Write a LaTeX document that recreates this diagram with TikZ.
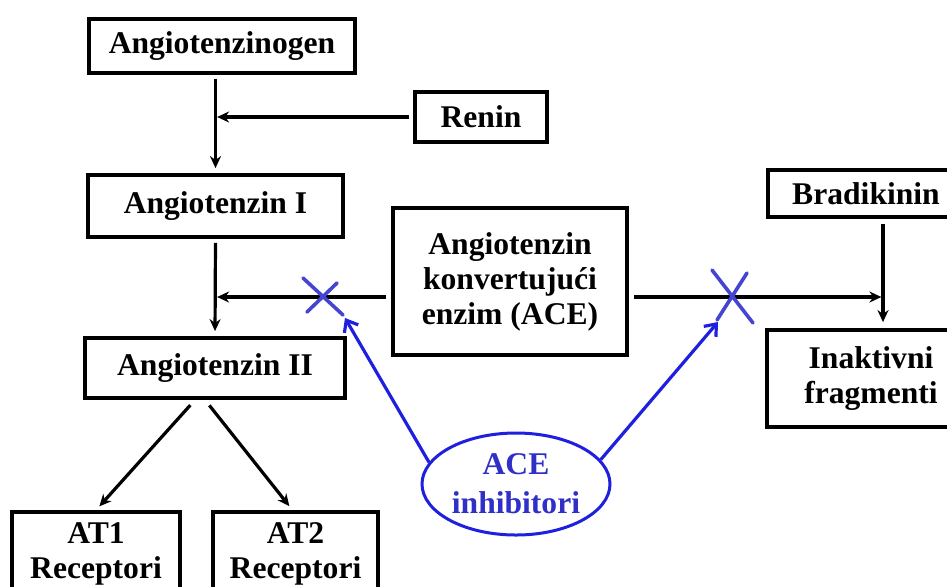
\documentclass[tikz,border=0pt]{standalone}
\usepackage{fontspec}
\setmainfont{Liberation Serif}
\usepackage{xcolor}
\usetikzlibrary{arrows.meta,positioning,shapes.geometric,calc}
\definecolor{inhblue}{HTML}{1F1FE0}
\definecolor{crossblue}{HTML}{4545D2}
\definecolor{txtblue}{HTML}{3030C8}

\begin{document}
\begin{tikzpicture}[
  x=0.5pt, y=-0.5pt,
  box/.style={rectangle, draw=black, line width=1.9pt, fill=white, inner sep=0pt,
              font=\fontsize{15.8}{17.5}\selectfont\bfseries, align=center},
  inhbox/.style={ellipse, draw=inhblue, line width=1.5pt, inner sep=0pt,
              minimum width=94pt, minimum height=51pt,
              font=\fontsize{15.8}{19.5}\selectfont\bfseries, text=txtblue, align=center},
  arrow/.style={-{Stealth[length=6pt, width=5.5pt]}, line width=1.6pt, black},
  inharrow/.style={-{Straight Barb[length=5pt, width=8pt]}, line width=1.6pt, inhblue},
  cross/.style={line width=1.8pt, crossblue, line cap=round},
]
\useasboundingbox (0,0) rectangle (947,586);

% Angiotensin chain
\node[box, minimum width=133pt, minimum height=27pt] (ang0) at (222,46) {Angiotenzinogen};
\node[box, minimum width=66pt, minimum height=25pt] (renin) at (481,117) {Renin};
\node[box, minimum width=127.5pt, minimum height=31pt] (ang1) at (215.5,206) {Angiotenzin I};
\node[box, minimum width=130pt, minimum height=30pt] (ang2) at (215,368) {Angiotenzin II};

% Enzyme
\node[box, minimum width=117pt, minimum height=73.5pt] (ace) at (510,281.5) {Angiotenzin\\konvertujući\\enzim (ACE)};

% Bradykinin side
\node[box, minimum width=98pt, minimum height=23.5pt] (brad) at (866,193.5) {Bradikinin};
\node[box, minimum width=104pt, minimum height=48.5pt] (inakt) at (871,378.5) {Inaktivni\\fragmenti};

% Receptors
\node[box, minimum width=84pt, minimum height=42pt] (at1) at (96,554) {AT1\\Receptori};
\node[box, minimum width=82.5pt, minimum height=42pt] (at2) at (295.5,554) {AT2\\Receptori};

% Inhibitor
\node[inhbox] (inh) at (516,484) {ACE\\inhibitori};

% Junctions and block marks
\coordinate (xl) at (322,297);
\coordinate (xr) at (733,297);
\coordinate (bj) at (883,297);
\coordinate (tl) at (345,318);
\coordinate (tr) at (718,322);

% Main arrows
\draw[arrow, shorten <=2pt, shorten >=2.5pt] (ang0.south -| ang1.north) -- (ang1.north);
\draw[arrow, shorten <=2pt, shorten >=0.8pt] (renin.west) -- (renin.west -| ang1.north);
\draw[arrow, shorten <=2pt, shorten >=2.5pt] (ang1.south) -- (ang2.north);
\draw[arrow, shorten <=2.5pt, shorten >=0.8pt] (ace.west |- xl) -- (xl -| ang1.south);
\draw[arrow, shorten <=2.5pt, shorten >=0.8pt] (ace.east |- xr) -- (bj);
\draw[arrow, shorten <=2.5pt, shorten >=3pt] (brad.south -| bj) -- (inakt.north -| bj);
\draw[arrow, shorten <=3.5pt, shorten >=2.5pt] ([xshift=-10pt]ang2.south) -- (at1.north);
\draw[arrow, shorten <=3.5pt, shorten >=2.5pt] ([xshift=-5pt]ang2.south) -- ([xshift=-1.5pt]at2.north);

% Inhibition
\draw[inharrow] (inh.166) -- (tl);
\draw[inharrow] (inh.16) -- (tr);
\draw[cross] ([shift={(-19,-19)}]xl) -- ([shift={(21,18)}]xl)
             ([shift={(15,-14)}]xl) -- ([shift={(-15,15)}]xl);
\draw[cross] ([shift={(-21,-27)}]xr) -- ([shift={(20,26)}]xr)
             ([shift={(14,-24)}]xr) -- ([shift={(-16,23)}]xr);

\end{tikzpicture}
\end{document}
